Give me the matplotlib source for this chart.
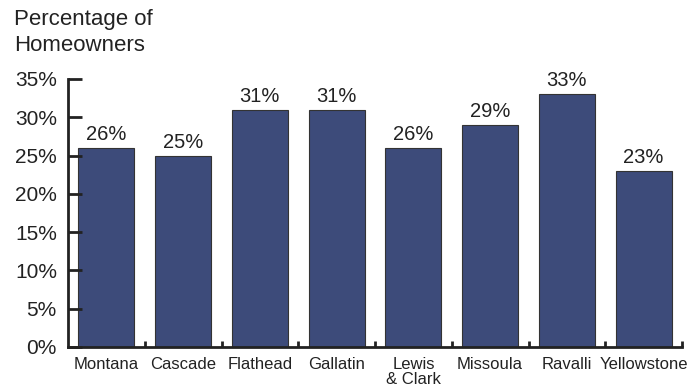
import matplotlib
matplotlib.use("Agg")
import matplotlib.pyplot as plt
from matplotlib.ticker import FixedLocator

plt.rcParams["font.family"] = ["Liberation Sans", "DejaVu Sans"]

counties = ["Montana", "Cascade", "Flathead", "Gallatin", "Lewis\n& Clark",
            "Missoula", "Ravalli", "Yellowstone"]
pct = [26, 25, 31, 31, 26, 29, 33, 23]
yticks = [0, 5, 10, 15, 20, 25, 30, 35]

fig = plt.figure(figsize=(6.99, 3.92), dpi=100)
ax = fig.add_axes([68 / 699, 1 - 347 / 392, 614 / 699, (347 - 79) / 392])

x = range(len(counties))
ax.bar(x, pct, width=0.73, color="#3d4b7a", edgecolor="#333333", linewidth=0.8)
for xi, v in zip(x, pct):
    ax.text(xi, v + 0.5, f"{v}%", ha="center", va="bottom", fontsize=14.5, color="#222222")

ax.set_xlim(-0.5, len(counties) - 0.5)
ax.set_ylim(0, 35)
ax.set_yticks(yticks)
ax.set_yticklabels([f"{t}%" for t in yticks], fontsize=15, color="#222222")
ax.yaxis.set_tick_params(direction="in", length=10, width=2, pad=8, color="#222222")

ax.set_xticks(list(x))
ax.set_xticklabels(counties, fontsize=12, color="#222222", linespacing=1.0)
ax.xaxis.set_tick_params(length=0, pad=7)
ax.xaxis.set_minor_locator(FixedLocator([i + 0.5 for i in range(len(counties))]))
ax.xaxis.set_tick_params(which="minor", direction="in", length=4, width=2, color="#222222")

for s in ["top", "right"]:
    ax.spines[s].set_visible(False)
for s in ["left", "bottom"]:
    ax.spines[s].set_linewidth(2)
    ax.spines[s].set_color("#222222")

fig.text(14 / 699, 1 - 9 / 392, "Percentage of\nHomeowners", ha="left", va="top",
         fontsize=16, color="#222222", linespacing=1.3)

fig.savefig("out.png", dpi=100)
